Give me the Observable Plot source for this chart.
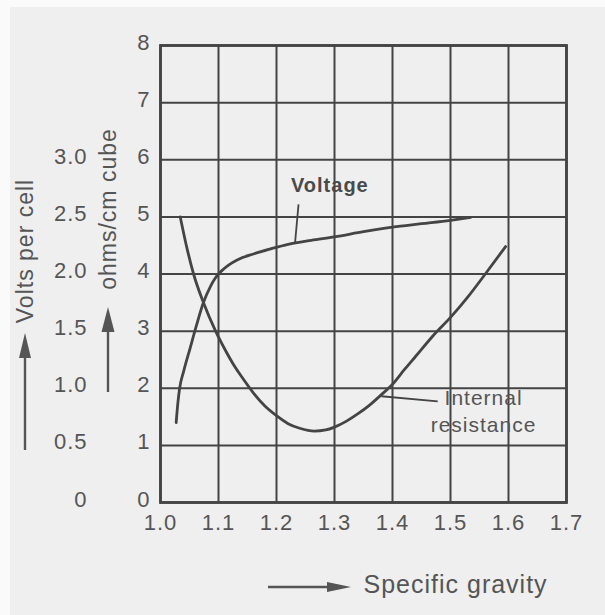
<!DOCTYPE html>
<html>
<head>
<meta charset="utf-8">
<script src="https://cdn.jsdelivr.net/npm/d3@7"></script>
<script src="https://cdn.jsdelivr.net/npm/@observablehq/plot@0.6"></script>
<style>
  html, body { margin: 0; padding: 0; background: #fafafa; }
  #chart { position: absolute; left: 10px; top: 7px; width: 595px; height: 608px; overflow: hidden; }
  #chart svg text { letter-spacing: 1px; }
</style>
</head>
<body>
<div id="chart"></div>
<script>
// ---- data ----
const sgTicks = [1.0, 1.1, 1.2, 1.3, 1.4, 1.5, 1.6, 1.7];
const ohmTicks = [0, 1, 2, 3, 4, 5, 6, 7, 8];
const voltTicks = [0, 0.5, 1.0, 1.5, 2.0, 2.5, 3.0];

// Voltage curve: specific gravity vs volts per cell
const voltageSG = [1.027, 1.030, 1.033, 1.040, 1.051, 1.062, 1.074, 1.086, 1.094, 1.100, 1.108, 1.118, 1.133, 1.16, 1.19, 1.22, 1.26, 1.30, 1.35, 1.40, 1.45, 1.50, 1.535];
const voltageV  = [0.70, 0.875, 1.00, 1.15, 1.35, 1.55, 1.75, 1.89, 1.96, 2.00, 2.04, 2.08, 2.125, 2.175, 2.22, 2.26, 2.295, 2.325, 2.37, 2.41, 2.44, 2.47, 2.495];

// Internal resistance curve: specific gravity vs ohms/cm cube
const resistSG = [1.034, 1.045, 1.057, 1.074, 1.095, 1.11, 1.125, 1.14, 1.16, 1.18, 1.20, 1.22, 1.24, 1.265, 1.285, 1.30, 1.32, 1.34, 1.36, 1.38, 1.40, 1.42, 1.44, 1.47, 1.50, 1.53, 1.56, 1.595];
const resistOhm = [5.0, 4.48, 4.0, 3.5, 3.0, 2.7, 2.43, 2.2, 1.92, 1.69, 1.52, 1.38, 1.3, 1.25, 1.27, 1.32, 1.42, 1.55, 1.7, 1.88, 2.07, 2.32, 2.56, 2.92, 3.24, 3.6, 4.0, 4.48];

// curve labels and leader lines
const labelText = ["Voltage", "Internal\nresistance"];
const labelSG = [1.292, 1.557];
const labelOhm = [5.55, 1.625];
const leaderSG1 = [1.232, 1.381];
const leaderOhm1 = [4.55, 1.86];
const leaderSG2 = [1.238, 1.478];
const leaderOhm2 = [5.22, 1.77];

const xTitle = "Specific gravity";
const yTitleVolts = "Volts per cell";
const yTitleOhms = "ohms/cm cube";

// ---- build tables ----
const voltage = voltageSG.map((x, i) => ({x, y: voltageV[i] * 2}));
const resist = resistSG.map((x, i) => ({x, y: resistOhm[i]}));
const labels = labelText.map((t, i) => ({t, x: labelSG[i], y: labelOhm[i]}));
const leaders = leaderSG1.map((x1, i) => ({x1, y1: leaderOhm1[i], x2: leaderSG2[i], y2: leaderOhm2[i]}));

const ink = "#444";
const textInk = "#555";
const font = "'Liberation Sans', Arial, Helvetica, sans-serif";

const plot = Plot.plot({
  width: 595,
  height: 608,
  marginLeft: 150,
  marginRight: 39,
  marginTop: 38,
  marginBottom: 113,
  style: {background: "#efefef", fontFamily: font, color: textInk},
  x: {domain: [1.0, 1.7]},
  y: {domain: [0, 8]},
  marks: [
    Plot.gridX(sgTicks, {stroke: ink, strokeOpacity: 1, strokeWidth: 2}),
    Plot.gridY(ohmTicks, {stroke: ink, strokeOpacity: 1, strokeWidth: 2}),
    Plot.frame({stroke: ink, strokeWidth: 2.8}),
    Plot.axisX({ticks: sgTicks, tickSize: 0, tickPadding: 12, tickFormat: d3.format(".1f"), fontSize: 22, fill: textInk, label: null}),
    Plot.axisY({ticks: ohmTicks, tickSize: 0, tickPadding: 10, dy: -3, fontSize: 22, fill: textInk, label: null}),
    Plot.axisY({ticks: voltTicks.map(v => v * 2), tickSize: 0, tickPadding: 73, dy: -3, fontSize: 22, fill: textInk, label: null,
      tickFormat: d => d === 0 ? "0" : (d / 2).toFixed(1)}),
    Plot.line(voltage, {x: "x", y: "y", curve: "monotone-x", stroke: ink, strokeWidth: 2.8}),
    Plot.line(resist, {x: "x", y: "y", curve: "monotone-x", stroke: ink, strokeWidth: 2.8}),
    Plot.link(leaders, {x1: "x1", y1: "y1", x2: "x2", y2: "y2", stroke: ink, strokeWidth: 1.8}),
    Plot.text(labels.slice(0, 1), {x: "x", y: "y", text: "t", fontSize: 20, fontWeight: "bold", fill: "#4a4a4a"}),
    Plot.text(labels.slice(1), {x: "x", y: "y", text: "t", fontSize: 21, lineHeight: 1.3, fill: textInk}),
    Plot.text([xTitle], {frameAnchor: "bottom-left", dx: 203, dy: 82, textAnchor: "start", lineAnchor: "middle", fontSize: 25, fill: textInk}),
    Plot.text([yTitleVolts], {frameAnchor: "left", dx: -135, dy: -23, rotate: -90, textAnchor: "middle", lineAnchor: "middle", fontSize: 23, fill: textInk}),
    Plot.text([yTitleOhms], {frameAnchor: "left", dx: -52, dy: -65, rotate: -90, textAnchor: "middle", lineAnchor: "middle", fontSize: 23, fill: textInk})
  ]
});

document.getElementById("chart").appendChild(plot);

// axis-title arrows (decoration), in SVG pixel space
const svg = d3.select(plot);
function arrow(x1, y1, x2, y2, headLen, headW) {
  const dx = x2 - x1, dy = y2 - y1, L = Math.hypot(dx, dy);
  const ux = dx / L, uy = dy / L;
  const bx = x2 - ux * headLen, by = y2 - uy * headLen;
  svg.append("line").attr("x1", x1).attr("y1", y1).attr("x2", bx).attr("y2", by)
    .attr("stroke", textInk).attr("stroke-width", 2.4);
  svg.append("path")
    .attr("d", `M${x2},${y2}L${bx - uy * headW / 2},${by + ux * headW / 2}L${bx + uy * headW / 2},${by - ux * headW / 2}Z`)
    .attr("fill", textInk);
}
arrow(15, 443, 15, 326, 25, 12);
arrow(98, 385, 98, 300, 25, 13);
arrow(258, 580, 341, 580, 24, 10);
</script>
</body>
</html>
